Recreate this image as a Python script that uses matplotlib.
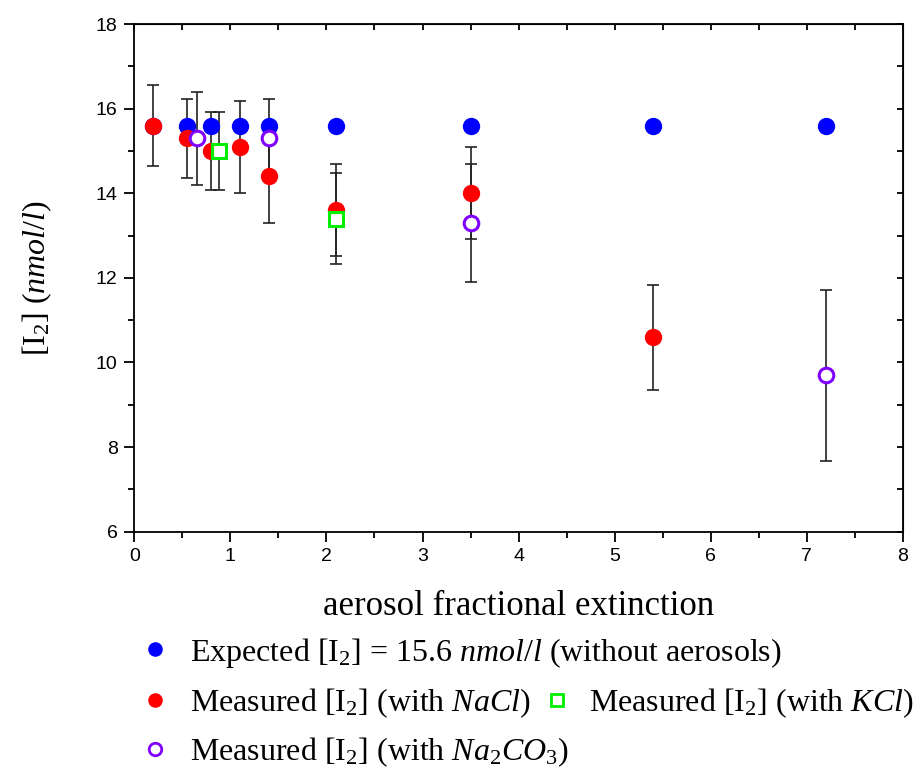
import matplotlib
matplotlib.use("Agg")
import matplotlib.pyplot as plt
from matplotlib.ticker import MultipleLocator

plt.rcParams['mathtext.fontset'] = 'custom'
plt.rcParams['mathtext.rm'] = 'Liberation Serif'
plt.rcParams['mathtext.it'] = 'Liberation Serif:italic'

# Data
exp_x = [0.19, 0.55, 0.8, 1.1, 1.4, 2.1, 3.5, 5.4, 7.2]
exp_y = [15.6] * 9

nacl_x = [0.19, 0.55, 0.8, 1.1, 1.4, 2.1, 3.5, 5.4]
nacl_y = [15.6, 15.3, 15.0, 15.1, 14.4, 13.6, 14.0, 10.6]
nacl_err = [0.95, 0.93, 0.93, 1.09, 1.1, 1.08, 1.09, 1.24]

kcl_x = [0.88, 2.1]
kcl_y = [15.0, 13.4]
kcl_err = [0.93, 1.08]

na2co3_x = [0.65, 1.4, 3.5, 7.2]
na2co3_y = [15.3, 15.3, 13.3, 9.7]
na2co3_err = [1.1, 0.93, 1.4, 2.02]

fig = plt.figure(figsize=(9.17, 7.75), dpi=100)
ax = fig.add_axes([0.1465, 0.314, 0.838, 0.655])

ekw = dict(fmt='none', ecolor='#222222', elinewidth=1.2, capsize=4.5, capthick=1.2, zorder=2)
ax.errorbar(nacl_x, nacl_y, yerr=nacl_err, **ekw)
ax.errorbar(kcl_x, kcl_y, yerr=kcl_err, **ekw)
ax.errorbar(na2co3_x, na2co3_y, yerr=na2co3_err, **ekw)

h_exp, = ax.plot(exp_x, exp_y, 'o', color='#0000ff', markersize=12.5, markeredgewidth=0, linestyle='none', zorder=3)
h_nacl, = ax.plot(nacl_x, nacl_y, 'o', color='#ff0000', markersize=12.5, markeredgewidth=0, linestyle='none', zorder=4)
h_kcl, = ax.plot(kcl_x, kcl_y, 's', markerfacecolor='white', markeredgecolor='#00ee00', markersize=9.5, markeredgewidth=2.2, linestyle='none', zorder=5)
h_na2, = ax.plot(na2co3_x, na2co3_y, 'o', markerfacecolor='white', markeredgecolor='#8000ff', markersize=10.5, markeredgewidth=2.2, linestyle='none', zorder=6)

ax.set_xlim(0, 8)
ax.set_ylim(6, 18)
ax.xaxis.set_major_locator(MultipleLocator(1))
ax.xaxis.set_minor_locator(MultipleLocator(0.5))
ax.yaxis.set_major_locator(MultipleLocator(2))
ax.yaxis.set_minor_locator(MultipleLocator(1))
ax.tick_params(which='both', direction='out', top=False, right=False, width=1.3, labelsize=14, colors='black')
ax.tick_params(which='major', length=7, pad=5)
ax.tick_params(which='minor', length=4)
for lab in ax.get_xticklabels() + ax.get_yticklabels():
    lab.set_fontfamily('Liberation Sans')
for sp in ax.spines.values():
    sp.set_linewidth(1.3)

# inward ticks on top and right
axt = ax.secondary_xaxis('top')
axt.xaxis.set_major_locator(MultipleLocator(0.5))
axt.tick_params(direction='in', length=4, width=1.3, labeltop=False)
axr = ax.secondary_yaxis('right')
axr.yaxis.set_major_locator(MultipleLocator(1))
axr.tick_params(direction='in', length=4, width=1.3, labelright=False)

ax.set_xlabel('aerosol fractional extinction', fontfamily='Liberation Serif', fontsize=25, labelpad=18)
ax.set_ylabel(r'[I$_2$] $\mathit{(nmol/l)}$', fontfamily='Liberation Serif', fontsize=23, labelpad=30)

lkw = dict(frameon=False, prop={'family': 'Liberation Serif', 'size': 23},
           handlelength=1.0, borderaxespad=0, borderpad=0, loc='center left')
lab_exp = r'Expected [I$_2$] = 15.6 $\mathit{nmol/l}$ (without aerosols)'
lab_nacl = r'Measured [I$_2$] (with $\mathit{NaCl}$)'
lab_kcl = r'Measured [I$_2$] (with $\mathit{KCl}$)'
lab_na2 = r'Measured [I$_2$] (with $\mathit{Na_2CO_3}$)'

hs_exp = plt.Line2D([], [], marker='o', color='#0000ff', markersize=10.5, markeredgewidth=0, linestyle='none')
hs_nacl = plt.Line2D([], [], marker='o', color='#ff0000', markersize=10.5, markeredgewidth=0, linestyle='none')
hs_kcl = plt.Line2D([], [], marker='s', markerfacecolor='white', markeredgecolor='#00ee00', markersize=8, markeredgewidth=2, linestyle='none')
hs_na2 = plt.Line2D([], [], marker='o', markerfacecolor='white', markeredgecolor='#8000ff', markersize=9, markeredgewidth=2, linestyle='none')

fig.legend([hs_exp], [lab_exp], bbox_to_anchor=(0.152, 0.158), handletextpad=0.6, **lkw)
fig.legend([hs_nacl], [lab_nacl], bbox_to_anchor=(0.152, 0.093), handletextpad=0.6, **lkw)
fig.legend([hs_kcl], [lab_kcl], bbox_to_anchor=(0.590, 0.093), handletextpad=0.5, **lkw)
fig.legend([hs_na2], [lab_na2], bbox_to_anchor=(0.152, 0.030), handletextpad=0.6, **lkw)

fig.savefig('out.png', dpi=100)
